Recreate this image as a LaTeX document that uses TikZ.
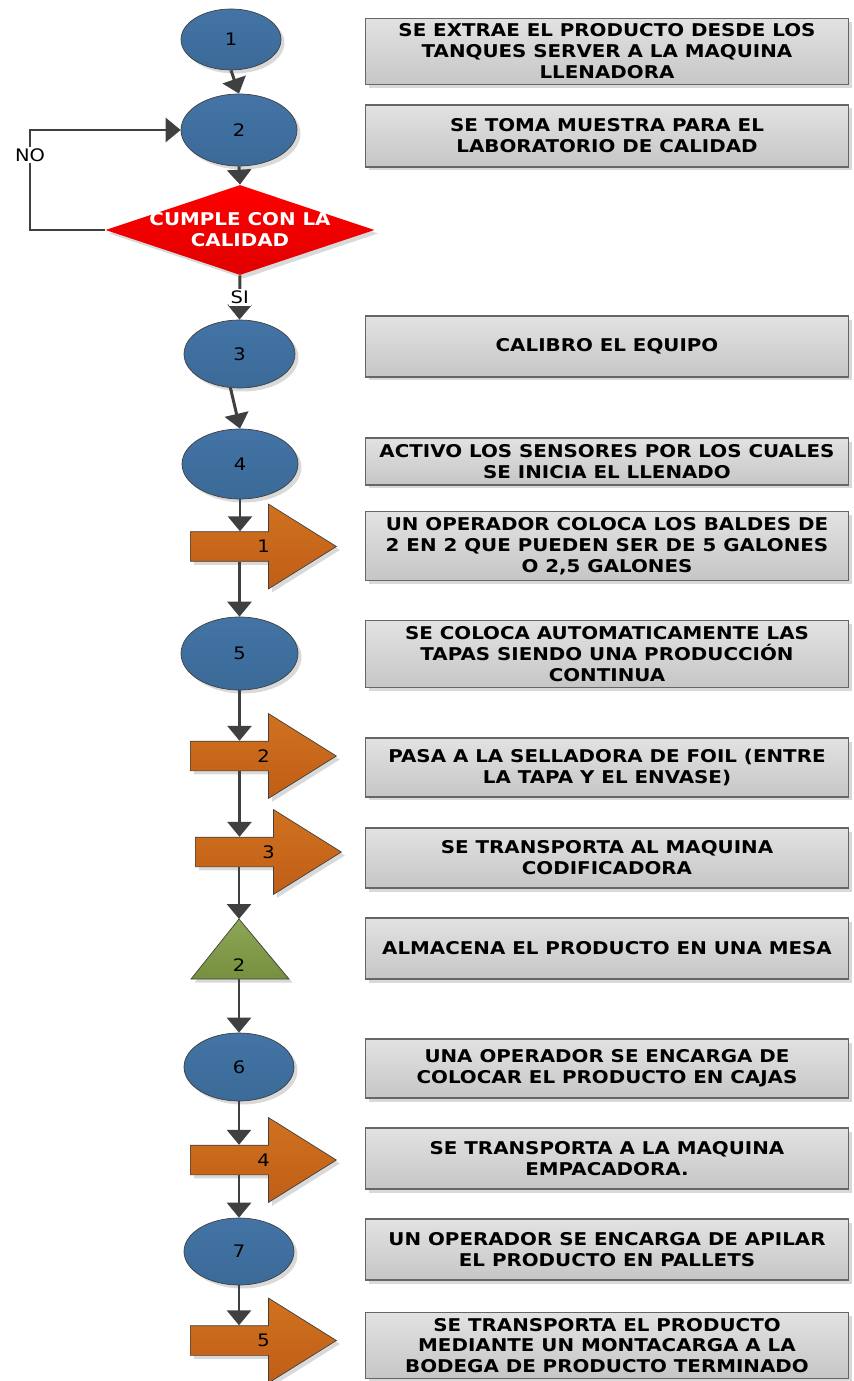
\documentclass[tikz,border=0pt]{standalone}
\usepackage{fontspec}
\setmainfont{DejaVu Sans}[FakeStretch=1.13]
\usepackage{tikz}
\usetikzlibrary{shapes,arrows.meta,positioning,calc,shadows}

\definecolor{azulop}{HTML}{3B6A98}
\definecolor{azulopclaro}{HTML}{4374A5}
\definecolor{naranjatr}{HTML}{C05E17}
\definecolor{naranjatrclaro}{HTML}{D0711F}
\definecolor{verdealm}{HTML}{76903F}
\definecolor{verdealmclaro}{HTML}{8CA656}
\definecolor{rojodec}{HTML}{E00000}
\definecolor{grislinea}{HTML}{404040}
\definecolor{grisbox}{HTML}{C6C6C6}
\definecolor{grisboxclaro}{HTML}{E2E2E2}

\begin{document}
\begin{tikzpicture}[x=0.02cm,y=-0.02cm,
    sombra/.style={drop shadow={shadow xshift=0.07cm,shadow yshift=-0.07cm,fill=black,opacity=0.15}},
    flecha/.style={draw=grislinea,line width=1.7pt,-{Triangle[width=0.48cm,length=0.3cm]}},
    numero/.style={font=\fontsize{9.8}{11}\selectfont},
    operacion/.style={ellipse,draw=grislinea,line width=0.4pt,inner sep=0pt,
        top color=azulopclaro,bottom color=azulop,sombra,numero},
    transporte/.style={single arrow,draw=grislinea,line width=0.4pt,inner xsep=0pt,inner ysep=0.29cm,
        minimum height=2.92cm,single arrow head extend=0.55cm,single arrow tip angle=64,
        top color=naranjatrclaro,bottom color=naranjatr,sombra,anchor=tip},
    almacen/.style={draw=grislinea,line width=0.4pt,top color=verdealmclaro,bottom color=verdealm,sombra},
    decision/.style={diamond,draw=none,inner sep=0pt,top color=red,bottom color=rojodec,sombra},
    caja/.style={rectangle,draw=grislinea!80,line width=0.6pt,minimum width=9.68cm,align=center,
        top color=grisboxclaro,bottom color=grisbox,sombra,
        font=\fontsize{10}{11.9}\selectfont\bfseries},
    etiqueta/.style={fill=white,inner sep=1pt,numero}]

\useasboundingbox (0,0) rectangle (854,1381);

% simbolos del diagrama
\node[operacion,minimum width=2cm,minimum height=1.22cm] (e1) at (231,39.5) {1};
\node[operacion,minimum width=2.32cm,minimum height=1.44cm] (e2) at (239,130) {2};
\node[decision,minimum width=5.38cm,minimum height=1.8cm,
    label={[text=white,align=center,font=\fontsize{10}{11.9}\selectfont\bfseries]center:CUMPLE CON LA\\CALIDAD}] (dec) at (240,230) {};
\node[operacion,minimum width=2.22cm,minimum height=1.36cm] (e3) at (239.5,354) {3};
\node[operacion,minimum width=2.32cm,minimum height=1.4cm] (e4) at (240,464) {4};
\node[transporte,label={[numero,xshift=0.24cm]center:1}] (t1) at (337,546.5) {};
\node[operacion,minimum width=2.34cm,minimum height=1.46cm] (e5) at (239.5,653.5) {5};
\node[transporte,label={[numero,xshift=0.24cm]center:2}] (t2) at (337,756) {};
\node[transporte,label={[numero,xshift=0.24cm]center:3}] (t3) at (342,852) {};
\path[almacen] (239,919) -- (289,979) -- (191,979) -- cycle;
\coordinate (alm-sup) at (239,919);
\coordinate (alm-inf) at (239,979);
\node[numero] (alm) at (239,965) {2};
\node[operacion,minimum width=2.2cm,minimum height=1.36cm] (e6) at (239,1067) {6};
\node[transporte,label={[numero,xshift=0.24cm]center:4}] (t4) at (337,1160) {};
\node[operacion,minimum width=2.2cm,minimum height=1.34cm] (e7) at (239,1251.5) {7};
\node[transporte,label={[numero,xshift=0.24cm]center:5}] (t5) at (337,1340.5) {};

% descripciones
\node[caja,minimum height=1.22cm] (b1) at (607,51.5) {SE EXTRAE EL PRODUCTO DESDE LOS\\TANQUES SERVER A LA MAQUINA\\LLENADORA};
\node[caja,minimum height=1.24cm] (b2) at (607,136) {SE TOMA MUESTRA PARA EL\\LABORATORIO DE CALIDAD};
\node[caja,minimum height=1.22cm] (b3) at (607,346.5) {CALIBRO EL EQUIPO};
\node[caja,minimum height=0.94cm] (b4) at (607,461.5) {ACTIVO LOS SENSORES POR LOS CUALES\\SE INICIA EL LLENADO};
\node[caja,minimum height=1.2cm] (b5) at (607,546) {UN OPERADOR COLOCA LOS BALDES DE\\2 EN 2 QUE PUEDEN SER DE 5 GALONES\\O 2,5 GALONES};
\node[caja,minimum height=1.2cm] (b6) at (607,654) {SE COLOCA AUTOMATICAMENTE LAS\\TAPAS SIENDO UNA PRODUCCIÓN\\CONTINUA};
\node[caja,minimum height=1.18cm] (b7) at (607,767.5) {PASA A LA SELLADORA DE FOIL (ENTRE\\LA TAPA Y EL ENVASE)};
\node[caja,minimum height=1.2cm] (b8) at (607,858) {SE TRANSPORTA AL MAQUINA\\CODIFICADORA};
\node[caja,minimum height=1.22cm] (b9) at (607,948.5) {ALMACENA EL PRODUCTO EN UNA MESA};
\node[caja,minimum height=1.18cm] (b10) at (607,1068.5) {UNA OPERADOR SE ENCARGA DE\\COLOCAR EL PRODUCTO EN CAJAS};
\node[caja,minimum height=1.22cm] (b11) at (607,1158.5) {SE TRANSPORTA A LA MAQUINA\\EMPACADORA.};
\node[caja,minimum height=1.22cm] (b12) at (607,1249.5) {UN OPERADOR SE ENCARGA DE APILAR\\EL PRODUCTO EN PALLETS};
\node[caja,minimum height=1.3cm] (b13) at (607,1345.5) {SE TRANSPORTA EL PRODUCTO\\MEDIANTE UN MONTACARGA A LA\\BODEGA DE PRODUCTO TERMINADO};

% conectores
\coordinate (lazo) at (30,155);
\draw[flecha] (e1.south) -- (e2.north);
\draw[flecha] (e2.south) -- (dec.north);
\draw[flecha] (dec.west) -| (lazo) node[etiqueta] {NO} |- (e2.west);
\draw[flecha] (dec.south) -- node[etiqueta] (si) {SI} (e3.north);
\draw[flecha] (e3.255) -- (e4.north);
\draw[flecha] (e4.south) -- (e4.south |- t1.90);
\draw[flecha] (e5.north |- t1.270) -- (e5.north);
\draw[flecha] (e5.south) -- (e5.south |- t2.90);
\draw[flecha] (e5.south |- t2.270) -- (e5.south |- t3.90);
\draw[flecha] (alm-sup |- t3.270) -- (alm-sup);
\draw[flecha] (alm-inf) -- (e6.north);
\draw[flecha] (e6.south) -- (e6.south |- t4.90);
\draw[flecha] (e7.north |- t4.270) -- (e7.north);
\draw[flecha] (e7.south) -- (e7.south |- t5.90);
\end{tikzpicture}
\end{document}
